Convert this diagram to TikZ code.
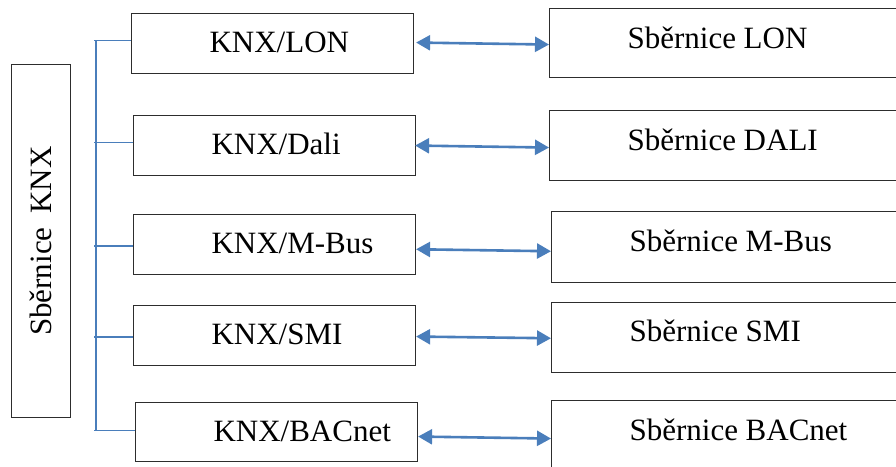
\documentclass[tikz,border=0pt]{standalone}
\usepackage{fontspec}
\setmainfont{LiberationSerif}[Extension=.ttf, UprightFont=*-Regular, BoldFont=*-Bold]
\usetikzlibrary{arrows.meta}
\definecolor{lineblue}{RGB}{74,126,187}
\definecolor{boxgray}{RGB}{45,45,45}
\newcommand\boxlabel[3]{\makebox[#1][l]{\hspace{78pt}\raisebox{#2}[0pt][0pt]{#3}}}
\tikzset{
  boxnode/.style={draw=boxgray, line width=1.1pt, rectangle, inner sep=0pt, anchor=north west,
    font=\fontsize{31}{37}\selectfont},
  midbox/.style={boxnode, minimum width=282pt, minimum height=60pt},
  busbox/.style={boxnode, minimum width=360pt, minimum height=70pt},
  treeline/.style={draw=lineblue, line width=1.6pt},
  biarrow/.style={draw=lineblue, line width=2.6pt, {Triangle[length=14pt,width=15pt]}-{Triangle[length=14pt,width=15pt]}}
}
\begin{document}
\begin{tikzpicture}[x=1pt,y=-1pt]
\useasboundingbox (0,0) rectangle (896,466);
\clip (0,0) rectangle (896,466);
\fill[white] (0,0) rectangle (896,466);
% KNX bus box
\node[boxnode, minimum width=59pt, minimum height=353pt] (knx) at (11,64) {};
\node[font=\fontsize{31}{37}\selectfont, rotate=90, inner sep=0pt] (knxt) at (knx.center) {Sběrnice\hspace{0.45em}KNX};
% middle boxes
\node[midbox] (m1) at (131,12.7) {\boxlabel{282pt}{-9.3pt}{KNX/LON}};
\node[midbox] (m2) at (133,115) {\boxlabel{282pt}{-9.3pt}{KNX/Dali}};
\node[midbox] (m3) at (133,214) {\boxlabel{282pt}{-9.3pt}{KNX/M-Bus}};
\node[midbox] (m4) at (133,304.7) {\boxlabel{282pt}{-9.3pt}{KNX/SMI}};
\node[midbox, minimum height=59.3pt] (m5) at (135,401.7) {\boxlabel{282pt}{-9.3pt}{KNX/BACnet}};
% right boxes
\node[busbox, minimum height=69pt] (r1) at (549,8) {\boxlabel{360pt}{-5pt}{Sběrnice LON}};
\node[busbox] (r2) at (549,110) {\boxlabel{360pt}{-5pt}{Sběrnice DALI}};
\node[busbox, minimum height=70.7pt] (r3) at (551,211) {\boxlabel{360pt}{-5pt}{Sběrnice M-Bus}};
\node[busbox] (r4) at (551,302) {\boxlabel{360pt}{-4pt}{Sběrnice SMI}};
\node[busbox] (r5) at (551,400) {\boxlabel{360pt}{-5pt}{Sběrnice BACnet}};
% tree
\coordinate (vtop) at (96,40);
\coordinate (vbot) at (96,430);
\draw[treeline] (vtop) -- (vbot);
\draw[treeline] ([yshift=2.7pt]m1.west) -- ([yshift=2.7pt]m1.west -| 94,0);
\draw[treeline] ([yshift=3pt]m2.west) -- ([yshift=3pt]m2.west -| 94,0);
\draw[treeline] ([yshift=-1.7pt]m3.west) -- ([yshift=-1.7pt]m3.west -| 94,0);
\draw[treeline] ([yshift=-2pt]m4.west) -- ([yshift=-2pt]m4.west -| 94,0);
\draw[treeline] ([yshift=1.35pt]m5.west) -- ([yshift=1.35pt]m5.west -| 94,0);
% arrows
\draw[biarrow] ([xshift=2pt,yshift=0.7pt]m1.east) -- ([yshift=-1.5pt]r1.west);
\draw[biarrow] ([xshift=-1pt]m2.east) -- ([yshift=-2pt]r2.west);
\draw[biarrow] ([yshift=-4.7pt]m3.east) -- ([yshift=-4.35pt]r3.west);
\draw[biarrow] ([yshift=-1.3pt]m4.east) -- ([yshift=-0.7pt]r4.west);
\draw[biarrow] ([yshift=-4.65pt]m5.east) -- ([yshift=-3pt]r5.west);
\end{tikzpicture}
\end{document}
